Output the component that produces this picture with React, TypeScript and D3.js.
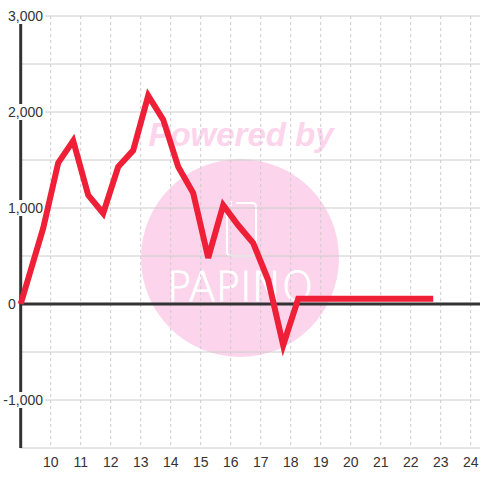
import React from "react";
import * as d3 from "d3";

const times = [9, 9.75, 10.25, 10.75, 11.25, 11.75, 12.25, 12.75, 13.25, 13.75, 14.25, 14.75, 15.25, 15.75, 16.25, 16.75, 17.25, 17.75, 18.25, 18.75, 19.25, 19.75, 20.25, 20.75, 21.25, 21.75, 22.25, 22.75];
const values = [0, 790, 1470, 1700, 1135, 945, 1430, 1600, 2170, 1920, 1430, 1155, 480, 1030, 820, 635, 250, -430, 55, 55, 55, 55, 55, 55, 55, 55, 55, 55];
const xTicks = [10, 11, 12, 13, 14, 15, 16, 17, 18, 19, 20, 21, 22, 23, 24];
const yGrid = [-1500, -1000, -500, 0, 500, 1000, 1500, 2000, 2500, 3000];
const yLabels = [-1000, 0, 1000, 2000, 3000];

const W = 480;
const H = 480;
const FONT = "'Liberation Sans', Arial, sans-serif";

export default function App() {
  const x = d3.scaleLinear().domain([9, 24.31]).range([20.7, 480]);
  const y = d3.scaleLinear().domain([-1500, 3000]).range([448, 16]);
  const fmt = (v: number) => d3.format(",")(v).replace("\u2212", "-");
  const line = d3
    .line<number>()
    .x((_, i) => x(times[i]))
    .y((d) => y(d));
  const pink = "#fcd5ec";
  return (
    <svg
      width={W}
      height={H}
      style={{ position: "absolute", left: 0, top: 0, background: "#fff" }}
    >
      {/* watermark */}
      <g>
        <text
          x={241}
          y={146}
          textAnchor="middle"
          fontFamily={FONT}
          fontWeight="bold"
          fontStyle="italic"
          fontSize={33}
          fill={pink}
        >
          Powered by
        </text>
        <circle cx={240} cy={258} r={99} fill={pink} />
        <path
          d="M231,201 L231,206 M236,203 L252,203 Q256,203 256,207 L256,252 Q256,256 252,256 L231,256 Q227,256 227,252 L227,210"
          fill="none"
          stroke="#fff"
          strokeWidth={2}
        />
        <text
          x={240}
          y={301}
          textAnchor="middle"
          fontFamily="'DejaVu Sans', sans-serif"
          fontWeight={200}
          fontSize={40}
          letterSpacing={0}
          fill="#fff"
          stroke="#fff"
          strokeWidth={0.8}
        >
          PAPINO
        </text>
      </g>
      {/* horizontal grid */}
      {yGrid.map((v) => (
        <line key={"h" + v} x1={20} x2={480} y1={y(v)} y2={y(v)} stroke="#cccccc" strokeWidth={1} />
      ))}
      {/* vertical grid */}
      {xTicks.map((t) => (
        <line
          key={"v" + t}
          x1={x(t)}
          x2={x(t)}
          y1={16}
          y2={447}
          stroke="#cccccc"
          strokeWidth={1}
          strokeDasharray="3,3"
        />
      ))}
      {/* axes */}
      <line x1={20} x2={480} y1={y(0)} y2={y(0)} stroke="#333" strokeWidth={3} />
      <line x1={x(9)} x2={x(9)} y1={16} y2={448} stroke="#333" strokeWidth={3} />
      {/* y labels */}
      {yLabels.map((v) =>
        v === 0 ? (
          <text
            key={"yl" + v}
            x={8}
            y={y(v)}
            dy="0.35em"
            fontFamily={FONT}
            fontSize={14}
            fill="#333"
          >
            {fmt(v)}
          </text>
        ) : (
          <g key={"yl" + v}>
            <rect x={1} y={y(v) - 8} width={44} height={16} fill="#fff" />
            <text
              x={43}
              y={y(v)}
              dy="0.35em"
              textAnchor="end"
              fontFamily={FONT}
              fontSize={14}
              fill="#333"
            >
              {fmt(v)}
            </text>
          </g>
        )
      )}
      {/* x labels */}
      {xTicks.map((t) => (
        <text
          key={"xl" + t}
          x={x(t)}
          y={467}
          textAnchor="middle"
          fontFamily={FONT}
          fontSize={14}
          fill="#333"
        >
          {t}
        </text>
      ))}
      {/* series */}
      <path
        d={line(values) || ""}
        fill="none"
        stroke="#ee1f36"
        strokeWidth={6}
        strokeLinejoin="miter"
        strokeLinecap="butt"
      />
    </svg>
  );
}
